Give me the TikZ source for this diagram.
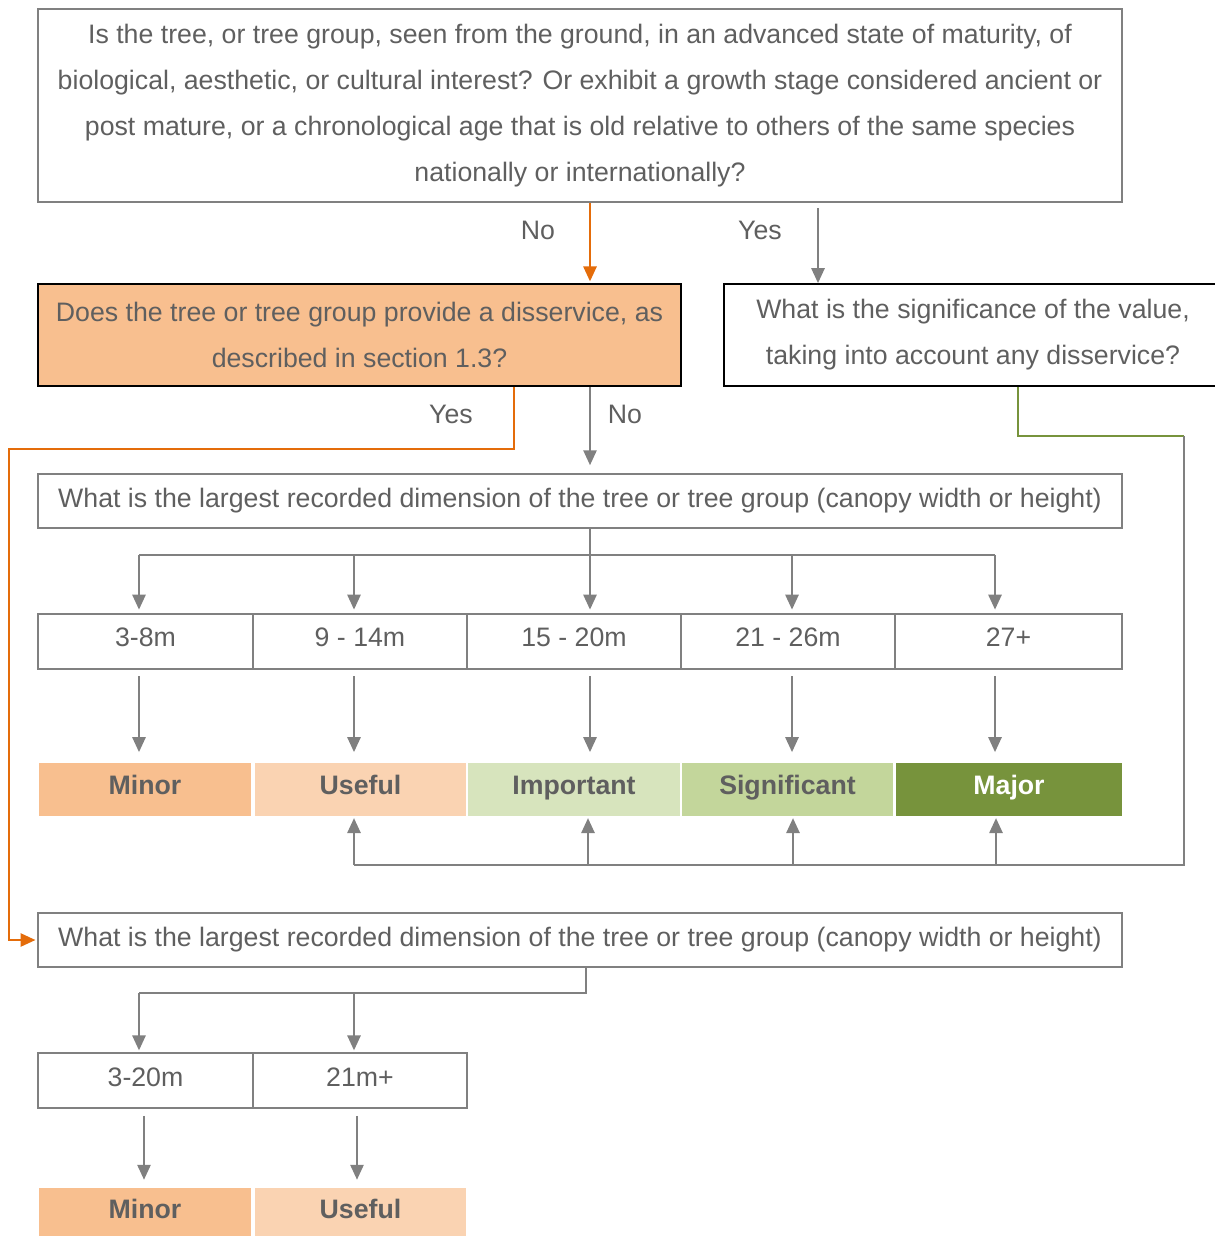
\documentclass[tikz,border=0pt]{standalone}
\usepackage{fontspec}
\setmainfont{Liberation Sans}
\usetikzlibrary{positioning,arrows.meta}

\definecolor{txtgray}{HTML}{5F5F5F}
\definecolor{linegray}{HTML}{808080}
\definecolor{treeorange}{HTML}{E46C0A}
\definecolor{treegreen}{HTML}{77933C}
\definecolor{minorfill}{HTML}{F8BF8F}
\definecolor{usefulfill}{HTML}{FAD3B2}
\definecolor{importantfill}{HTML}{D7E4BD}
\definecolor{significantfill}{HTML}{C3D69B}

\begin{document}
\begin{tikzpicture}[
      x=0.02cm, y=-0.02cm,
      >={Triangle[width=7.5pt,length=8.5pt]},
      every node/.style={font=\fontsize{15.2}{26.2}\selectfont, text=txtgray, inner sep=0pt},
      qbox/.style={draw=linegray, line width=1pt, align=center, minimum width=21.68cm},
      keybox/.style={draw=black, line width=1pt, align=center, minimum height=2.04cm},
      sizebox/.style={draw=linegray, line width=1pt, minimum height=1.1cm, text height=0.72em, text depth=0.2em},
      rating/.style={minimum height=1.06cm, text height=0.72em, text depth=0.1em,
        font=\fontsize{15.2}{26.2}\selectfont\bfseries},
      grayline/.style={draw=linegray, line width=1.2pt},
      grayarrow/.style={grayline, ->},
      orangeline/.style={draw=treeorange, line width=1.2pt},
      greenline/.style={draw=treegreen, line width=1pt}
    ]
      \useasboundingbox (0,0) rectangle (1214,1236);

      % questions
      \node[qbox, minimum height=3.86cm] (q1) at (580,105.5)
        {Is the tree, or tree group, seen from the ground, in an advanced state of maturity, of\\
         biological, aesthetic, or cultural interest? Or exhibit a growth stage considered ancient or\\
         post mature, or a chronological age that is old relative to others of the same species\\
         nationally or internationally?};
      \node[keybox, fill=minorfill, minimum width=12.86cm] (q2) at (359.5,335)
        {Does the tree or tree group provide a disservice, as\\ described in section 1.3?};
      \node[keybox, minimum width=9.96cm] (q3) at (973,335)
        {What is the significance of the value,\\ taking into account any disservice?};
      \node[qbox, minimum height=1.08cm] (q4) at (580,501)
        {What is the largest recorded dimension of the tree or tree group (canopy width or height)};
      \node[qbox, minimum height=1.08cm] (q5) at (580,940)
        {What is the largest recorded dimension of the tree or tree group (canopy width or height)};

      \node (lblno) at (538,230) {No};
      \node (lblyes) at (760,230) {Yes};
      \node (lblyes2) at (451,414) {Yes};
      \node (lblno2) at (625,414) {No};

      % size classes
      \node[sizebox, minimum width=4.3cm] (s1) at (145.5,641.5) {3-8m};
      \node[sizebox, minimum width=4.28cm] (s2) at (360,641.5) {9 - 14m};
      \node[sizebox, minimum width=4.28cm] (s3) at (574,641.5) {15 - 20m};
      \node[sizebox, minimum width=4.28cm] (s4) at (788,641.5) {21 - 26m};
      \node[sizebox, minimum width=4.54cm] (s5) at (1008.5,641.5) {27+};

      \node[rating, fill=minorfill, minimum width=4.24cm] (r1) at (145,789.5) {Minor};
      \node[rating, fill=usefulfill, minimum width=4.22cm] (r2) at (360.5,789.5) {Useful};
      \node[rating, fill=importantfill, minimum width=4.24cm] (r3) at (574,789.5) {Important};
      \node[rating, fill=significantfill, minimum width=4.22cm] (r4) at (787.5,789.5) {Significant};
      \node[rating, fill=treegreen, text=white, minimum width=4.52cm] (r5) at (1009,789.5) {Major};

      \node[sizebox, text depth=0.05em, minimum width=4.3cm] (t1) at (145.5,1080.5) {3-20m};
      \node[sizebox, text depth=0.05em, minimum width=4.28cm] (t2) at (360,1080.5) {21m+};
      \node[rating, fill=minorfill, text depth=0em, minimum width=4.24cm, minimum height=0.96cm] (m1) at (145,1212) {Minor};
      \node[rating, fill=usefulfill, text depth=0em, minimum width=4.22cm, minimum height=0.96cm] (m2) at (360.5,1212) {Useful};

      % columns and bends
      \coordinate (colno) at (590,0);
      \coordinate (colyes) at (818,0);
      \coordinate (coldis) at (514,0);
      \coordinate (colgreen) at (1018,0);
      \coordinate (bendleft) at (9,449);
      \coordinate (bendright) at (1184,436);
      \coordinate (cornerright) at (1184,865);
      \coordinate (d1) at (139,555);
      \coordinate (d2) at (354,555);
      \coordinate (d3) at (590,555);
      \coordinate (d4) at (792,555);
      \coordinate (d5) at (995,555);
      \coordinate (u2) at (354,865);
      \coordinate (u3) at (588,865);
      \coordinate (u4) at (793,865);
      \coordinate (u5) at (996,865);
      \coordinate (e1) at (139,993);
      \coordinate (e2) at (354,993);
      \coordinate (e3) at (586,993);

      \draw[orangeline, ->, shorten >=1pt] (q1.south -| colno) -- (q2.north -| colno);
      \draw[grayarrow, shorten <=3pt] (q1.south -| colyes) -- (q3.north -| colyes);
      \draw[grayarrow, shorten >=4.5pt] (q2.south -| colno) -- (q4.north -| colno);
      \draw[orangeline, ->, shorten >=1pt] (q2.south -| coldis) |- (bendleft) |- (q5.west);
      \draw[greenline] (q3.south -| colgreen) |- (bendright);
      \draw[grayline] (bendright) -- (cornerright) -- (u2);

      \draw[grayline] (q4.south -| d3) -- (d3);
      \draw[grayline] (d1) -- (d5);
      \foreach \d/\s in {d1/s1, d2/s2, d3/s3, d4/s4, d5/s5}
        \draw[grayarrow, shorten >=2pt] (\d) -- (\s.north -| \d);
      \foreach \s/\r/\c in {s1/r1/d1, s2/r2/d2, s3/r3/d3, s4/r4/d4, s5/r5/d5}
        \draw[grayarrow, shorten <=3.5pt, shorten >=6pt] (\s.south -| \c) -- (\r.north -| \c);
      \foreach \u/\r in {u2/r2, u3/r3, u4/r4, u5/r5}
        \draw[grayarrow, shorten >=1pt] (\u) -- (\r.south -| \u);

      \draw[grayline] (q5.south -| e3) -- (e3) -- (e1);
      \draw[grayarrow, shorten >=1pt] (e1) -- (t1.north -| e1);
      \draw[grayarrow, shorten >=1pt] (e2) -- (t2.north -| e2);
      \draw[grayarrow, shorten <=4pt, shorten >=4.5pt] (t1.south -| 144,0) -- (m1.north -| 144,0);
      \draw[grayarrow, shorten <=4pt, shorten >=4.5pt] (t2.south -| 357,0) -- (m2.north -| 357,0);
    \end{tikzpicture}
\end{document}
